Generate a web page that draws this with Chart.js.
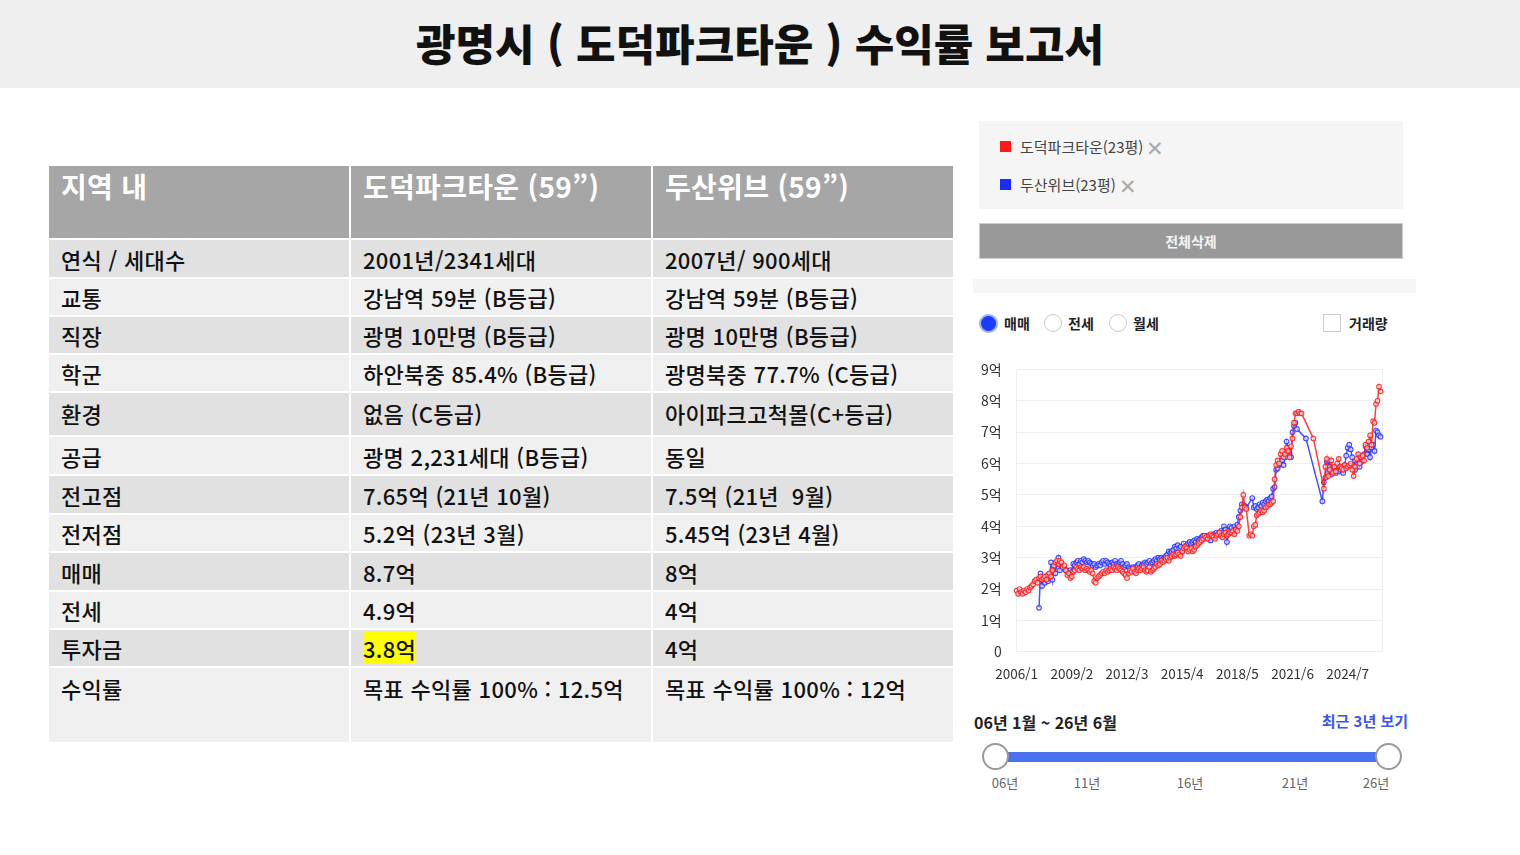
<!DOCTYPE html>
<html lang="ko">
<head>
<meta charset="utf-8">
<script src="https://cdn.jsdelivr.net/npm/chart.js@4.4.1/dist/chart.umd.min.js"></script>
<style>
  body { margin: 0; width: 1520px; height: 855px; background: #fff; position: relative; overflow: hidden;
         font-family: "Noto Sans CJK KR", "Noto Sans", sans-serif; }
  .titlebar { position: absolute; left: 0; top: 0; width: 1520px; height: 88px; background: #efefef; }
  .titlebar h1 { margin: 0; text-align: center; line-height: 84px; font-size: 43px; font-weight: 900; color: #111; letter-spacing: 0px; }
  .tbl { position: absolute; left: 49px; top: 166px; display: grid;
         grid-template-columns: 300px 300px 300px; column-gap: 2px; row-gap: 2px;
         grid-template-rows: 72px 37px 36px 36px 36px 42px 37px 37px 36px 37px 36px 36px 74px; }
  .tbl div { padding-left: 12px; font-size: 22px; color: #111; display: flex; align-items: center; font-weight: 500; letter-spacing: 0.3px; }
  .tbl .h { background: #a6a6a6; color: #fff; font-size: 28px; align-items: flex-start; padding-top: 0px; font-weight: 700; }
  .tbl .d { background: #e1e1e1; }
  .tbl .l { background: #f0f0f0; }
  .tbl .top { align-items: flex-start; padding-top: 4px; }
  .hl { background: #ffff00; }
  .legendbox { position: absolute; left: 979px; top: 121px; width: 424px; height: 88px; background: #f5f5f5; }
  .lg { position: absolute; left: 21px; font-size: 15px; color: #444; display: flex; align-items: center; }
  .lg i { display: inline-block; width: 11px; height: 11px; margin-right: 9px; }
  .lg b { font-weight: 200; color: #aaa; font-size: 21px; margin-left: 3px; line-height: 20px; }
  .btn { position: absolute; left: 979px; top: 223px; width: 422px; height: 34px; background: #999; border: 1px solid #ccc;
         color: #f4f4f4; font-weight: 700; font-size: 14px; text-align: center; line-height: 34px; }
  .strip { position: absolute; left: 973px; top: 279px; width: 443px; height: 14px; background: #f6f6f6; }
  .opt { position: absolute; top: 313px; font-size: 14px; font-weight: 700; color: #222; display: flex; align-items: center; }
  .rad { width: 16px; height: 16px; border-radius: 50%; border: 1px solid #ccc; background: #fff; margin-right: 6px; }
  .rad.on { background: #1a3cff; border: 2px solid #9fb0ff; width: 15px; height: 15px; }
  .chk { width: 16px; height: 16px; border: 1px solid #ccc; background: #fff; margin-right: 8px; }
  #chartBox { position: absolute; left: 964px; top: 346px; width: 432px; height: 350px; }
  .range { position: absolute; left: 974px; top: 710px; font-size: 16px; font-weight: 700; color: #222; }
  .recent { position: absolute; right: 112px; top: 710px; font-size: 15px; font-weight: 700; color: #3a55f0; }
  .track { position: absolute; left: 995px; top: 752px; width: 393px; height: 10px; background: #4a72f0; }
  .knob { position: absolute; top: 743px; width: 23px; height: 23px; border-radius: 50%; border: 2px solid #999; background: #fff; }
  .yr { position: absolute; top: 773px; font-size: 13px; color: #666; transform: translateX(-50%); }
</style>
</head>
<body>
<div class="titlebar"><h1>광명시 ( 도덕파크타운 ) 수익률 보고서</h1></div>

<div class="tbl">
  <div class="h">지역 내</div><div class="h">도덕파크타운 (59”)</div><div class="h">두산위브 (59”)</div>
  <div class="d">연식 / 세대수</div><div class="d">2001년/2341세대</div><div class="d">2007년/ 900세대</div>
  <div class="l">교통</div><div class="l">강남역 59분 (B등급)</div><div class="l">강남역 59분 (B등급)</div>
  <div class="d">직장</div><div class="d">광명 10만명 (B등급)</div><div class="d">광명 10만명 (B등급)</div>
  <div class="l">학군</div><div class="l">하안북중 85.4% (B등급)</div><div class="l">광명북중 77.7% (C등급)</div>
  <div class="d top">환경</div><div class="d top">없음 (C등급)</div><div class="d top">아이파크고척몰(C+등급)</div>
  <div class="l">공급</div><div class="l">광명 2,231세대 (B등급)</div><div class="l">동일</div>
  <div class="d">전고점</div><div class="d">7.65억 (21년 10월)</div><div class="d">7.5억 (21년 &nbsp;9월)</div>
  <div class="l">전저점</div><div class="l">5.2억 (23년 3월)</div><div class="l">5.45억 (23년 4월)</div>
  <div class="d">매매</div><div class="d">8.7억</div><div class="d">8억</div>
  <div class="l">전세</div><div class="l">4.9억</div><div class="l">4억</div>
  <div class="d">투자금</div><div class="d"><span class="hl">3.8억</span></div><div class="d">4억</div>
  <div class="l top">수익률</div><div class="l top">목표 수익률 100% : 12.5억</div><div class="l top">목표 수익률 100% : 12억</div>
</div>

<div class="legendbox">
  <div class="lg" style="top:15px"><i style="background:#ff1a1a"></i>도덕파크타운(23평)<b>✕</b></div>
  <div class="lg" style="top:53px"><i style="background:#1a2cff"></i>두산위브(23평)<b>✕</b></div>
</div>
<div class="btn">전체삭제</div>
<div class="strip"></div>

<div class="opt" style="left:979px"><span class="rad on"></span>매매</div>
<div class="opt" style="left:1044px"><span class="rad"></span>전세</div>
<div class="opt" style="left:1109px"><span class="rad"></span>월세</div>
<div class="opt" style="left:1323px"><span class="chk"></span>거래량</div>

<div id="chartBox"><canvas id="priceChart"></canvas></div>

<div class="range">06년 1월 ~ 26년 6월</div>
<div class="recent">최근 3년 보기</div>
<div class="track"></div>
<div class="knob" style="left:982px"></div>
<div class="knob" style="left:1375px"></div>
<div class="yr" style="left:1005px">06년</div>
<div class="yr" style="left:1087px">11년</div>
<div class="yr" style="left:1190px">16년</div>
<div class="yr" style="left:1295px">21년</div>
<div class="yr" style="left:1376px">26년</div>

<script>
// monthly categories 2006/1 ~ 2026/6
const months = [];
for (let y = 2006; y <= 2026; y++) {
  for (let m = 1; m <= 12; m++) {
    if (y === 2026 && m > 6) break;
    months.push(y + '/' + m);
  }
}

const yTicks = [0, 1, 2, 3, 4, 5, 6, 7, 8, 9];

// 도덕파크타운(23평) 매매, 억 (one row per year)
const dodeok = [
  1.95, 1.85, 2.0, 1.9, 1.85, 1.95, 1.9, 2.0, 1.95, 2.05, 2.1, 2.15,
  2.25, 2.3, 2.2, 2.35, 2.4, 2.3, 2.35, 2.4, 2.3, 2.45, 2.5, 2.4,
  2.6, 2.75, 2.85, 2.9, 2.8, 2.9, 2.85, 2.7, 2.75, 2.6, 2.45, 2.5,
  2.35, 2.4, 2.55, 2.6, 2.7, 2.65, 2.6, 2.7, 2.65, 2.7, 2.6, 2.65,
  2.6, 2.55, 2.6, 2.5, 2.25, 2.2, 2.35, 2.4, 2.45, 2.5, 2.55, 2.5,
  2.6, 2.55, 2.6, 2.65, 2.6, 2.7, 2.65, 2.6, 2.7, 2.65, 2.6, 2.55,
  2.5, 2.45, 2.35, 2.5, 2.6, 2.55, 2.65, 2.55, 2.5, 2.6, 2.65, 2.6,
  2.65, 2.7, 2.6, 2.55, 2.6, 2.7, 2.55, 2.6, 2.65, 2.7, 2.8, 2.75,
  2.8, 2.9, 2.85, 2.9, 2.95, 3.0, 2.9, 3.0, 3.05, 3.1, 3.05, 3.1,
  3.15, 3.1, 3.05, 3.2, 3.3, 3.35, 3.3, 3.2, 3.25, 3.3, 3.2, 3.25,
  3.35, 3.4, 3.45, 3.5, 3.55, 3.6, 3.7, 3.65, 3.6, 3.7, 3.75, 3.7,
  3.65, 3.6, 3.7, 3.75, 3.8, 3.7, 3.65, 3.75, 3.8, 3.7, 3.75, 3.8,
  3.8, 3.85, 3.75, 3.9, 3.85, 4.0, 4.3, 4.6, 5.0, 4.6, 4.55, null,
  3.7, 3.75, 3.7, 4.0, 4.05, 4.35, 4.4, 4.45, 4.5, 4.45, 4.5, 4.6,
  4.65, 4.7, 4.7, 4.75, 4.8, 5.5, 5.95, 6.1, 6.0, 6.3, 6.4, 6.2,
  6.3, 6.5, 6.4, 6.2, 6.55, 6.8, 7.3, 7.6, 7.6, 7.65, 7.6, 7.6,
  null, null, null, null, null, null, null, 6.8, null, null, null, null,
  null, null, 5.2, 5.9, 6.15, 5.6, 5.8, 6.1, 5.7, 5.9, 5.75, 6.0,
  6.15, 5.9, 5.85, 5.8, 5.95, 5.85, 5.9, 5.95, 6.0, 5.8, 5.6, 5.9,
  6.15, 6.3, 6.0, 6.2, 6.25, 6.1, 6.6, 6.5, 6.7, 6.9, 6.6, 7.35,
  7.3, 7.9, 8.0, 8.45, 8.3, null
];

// 두산위브(23평) 매매, 억
const doosan = [
  null, null, null, null, null, null, null, null, null, null, null, null,
  null, null, null, 1.4, 2.5, 2.1, 2.3, 2.2, 2.4, 2.25, 2.35, 2.85,
  2.3, 2.7, 2.5, 2.8, 3.0, 2.6, 2.75, 2.7, 2.65, 2.6, 2.55, 2.5,
  2.6, 2.55, 2.8, 2.75, 2.85, 2.9, 2.8, 2.9, 2.85, 2.95, 2.9, 2.85,
  2.9, 2.85, 2.8, 2.75, 2.8, 2.7, 2.75, 2.8, 2.75, 2.85, 2.9, 2.8,
  2.9, 2.85, 2.8, 2.75, 2.85, 2.8, 2.9, 2.8, 2.75, 2.85, 2.9, 2.8,
  2.7, 2.75, 2.8, 2.7, 2.65, 2.6, 2.7, 2.55, 2.7, 2.75, 2.8, 2.7,
  2.75, 2.8, 2.85, 2.8, 2.85, 2.9, 2.8, 2.85, 2.9, 2.95, 2.9, 3.0,
  2.95, 3.0, 2.95, 3.0, 3.05, 3.1, 3.2, 3.15, 3.2, 3.25, 3.35, 3.3,
  3.4, 3.3, 3.35, 3.2, 3.45, 3.3, 3.4, 3.45, 3.5, 3.45, 3.5, 3.55,
  3.5, 3.6, 3.55, 3.6, 3.65, 3.7, 3.6, 3.65, 3.7, 3.6, 3.55, 3.7,
  3.75, 3.7, 3.8, 3.75, 3.8, 3.85, 3.8, 4.0, 3.9, 3.5, 3.85, 4.0,
  3.95, 3.8, 4.0, 3.9, 4.05, 4.3, 4.5, 4.7, 4.6, 4.65, 4.6, null,
  null, null, 4.9, 4.6, 4.65, 4.55, 4.6, 4.7, 4.65, 4.75, 4.7, 4.8,
  4.85, 4.8, 4.9, 4.95, 5.2, 5.25, 5.8, 5.85, 5.95, 6.0, 6.1, 5.95,
  6.2, 6.7, 6.5, 6.3, 6.2, 7.0, 7.2, 7.3, 7.1, null, null, null,
  null, null, 6.8, null, null, null, null, null, null, null, null, null,
  null, 4.8, 5.4, 5.55, 6.05, 6.1, 5.9, 5.65, 5.75, 5.85, 5.7, 5.9,
  5.75, 5.8, 5.9, 5.7, 5.95, 6.25, 6.5, 6.6, 6.45, 6.2, 5.95, 5.8,
  6.0, 6.1, 5.9, 6.05, 6.1, 6.3, 6.55, 6.3, 6.45, 6.2, 6.5, 6.6,
  6.4, 7.05, 7.0, 6.9, 6.85, null
];

const labelEvery = 37;

const ctx = document.getElementById('priceChart');
new Chart(ctx, {
  type: 'line',
  data: {
    labels: months,
    datasets: [
      {
        label: '도덕파크타운(23평)',
        data: dodeok,
        borderColor: 'rgba(255,30,30,0.85)',
        backgroundColor: 'rgba(255,255,255,0.7)',
        borderWidth: 1.5,
        pointRadius: 2.3,
        pointBorderWidth: 1.2,
        pointBorderColor: 'rgba(255,30,30,0.85)',
        pointBackgroundColor: 'rgba(255,255,255,0.6)',
        spanGaps: true,
        tension: 0
      },
      {
        label: '두산위브(23평)',
        data: doosan,
        borderColor: 'rgba(40,50,255,0.85)',
        backgroundColor: 'rgba(255,255,255,0.7)',
        borderWidth: 1.5,
        pointRadius: 2.3,
        pointBorderWidth: 1.2,
        pointBorderColor: 'rgba(40,50,255,0.85)',
        pointBackgroundColor: 'rgba(255,255,255,0.6)',
        spanGaps: true,
        tension: 0
      }
    ]
  },
  options: {
    responsive: true,
    maintainAspectRatio: false,
    animation: false,
    layout: { padding: { top: 0, right: 14, left: 2, bottom: 0 } },
    scales: {
      x: {
        grid: {
          drawTicks: false,
          color: (c) => (c.index === 0 || c.index === months.length - 1) ? '#eeeeee' : 'rgba(0,0,0,0)'
        },
        border: { display: false },
        ticks: {
          autoSkip: false,
          maxRotation: 0,
          padding: 14,
          color: '#333',
          font: { size: 13.5, family: '"Noto Sans CJK KR", sans-serif' },
          callback: (v, i) => (i % labelEvery === 0 ? months[i] : '')
        }
      },
      y: {
        min: 0,
        max: 9,
        afterBuildTicks: (axis) => { axis.ticks = yTicks.map(v => ({ value: v })); },
        grid: { drawTicks: false, color: '#efefef' },
        border: { display: false },
        ticks: {
          padding: 15,
          color: '#333',
          font: { size: 14, family: '"Noto Sans CJK KR", sans-serif' },
          callback: (v) => (v === 0 ? '0' : v + '억')
        }
      }
    },
    plugins: {
      legend: { display: false },
      tooltip: { enabled: false }
    }
  }
});
</script>
</body>
</html>
